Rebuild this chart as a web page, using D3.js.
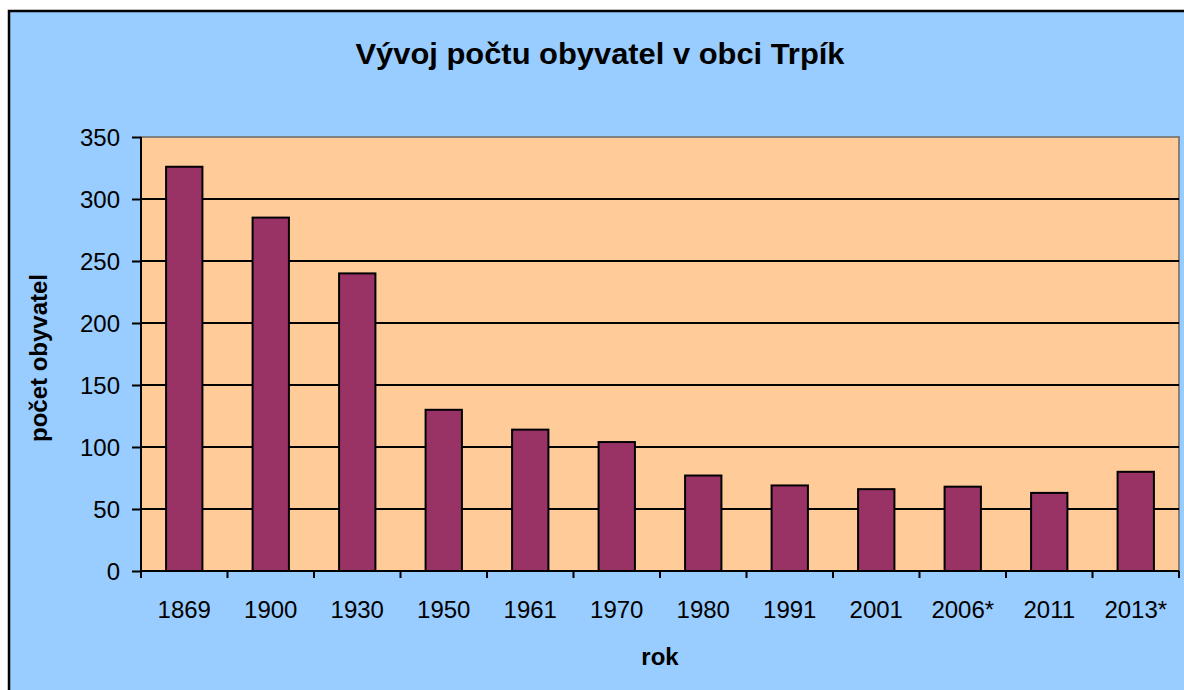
<!DOCTYPE html>
<html><head><meta charset="utf-8">
<script src="https://cdn.jsdelivr.net/npm/d3@7"></script>
<style>body{margin:0;background:#fff}svg{display:block}text{font-family:"Liberation Sans",Arial,sans-serif}</style>
</head><body>
<script>
const categories = ["1869","1900","1930","1950","1961","1970","1980","1991","2001","2006*","2011","2013*"];
const values = [326,285,240,130,114,104,77,69,66,68,63,80];
const yTicks = [0,50,100,150,200,250,300,350];

const W=1184,H=690;
const svg=d3.select("body").append("svg").attr("width",W).attr("height",H);
svg.append("rect").attr("x",9).attr("y",11).attr("width",W).attr("height",H).attr("fill","#99CCFF").attr("stroke","#000").attr("stroke-width",2.5);
const L=141,R=1179,T=137,B=571;
const x=d3.scaleBand().domain(categories).range([L,R]).paddingInner(0.58).paddingOuter(0.29);
const y=d3.scaleLinear().domain([0,350]).range([B,T]);
svg.append("rect").attr("x",L).attr("y",T).attr("width",R-L).attr("height",B-T).attr("fill","#FFCC99").attr("stroke","#808080").attr("stroke-width",2);
svg.append("g").selectAll("line").data(yTicks.filter(d=>d>0&&d<350)).join("line")
 .attr("x1",L).attr("x2",R).attr("y1",d=>y(d)).attr("y2",d=>y(d)).attr("stroke","#000").attr("stroke-width",2);
svg.append("g").selectAll("rect").data(values).join("rect")
 .attr("x",(d,i)=>x(categories[i])).attr("width",x.bandwidth())
 .attr("y",d=>y(d)).attr("height",d=>B-y(d))
 .attr("fill","#993366").attr("stroke","#000").attr("stroke-width",2);
const ya=svg.append("g").attr("transform",`translate(${L},0)`).call(d3.axisLeft(y).tickValues(yTicks).tickSize(9).tickPadding(12));
ya.select(".domain").attr("stroke","#000").attr("stroke-width",2).attr("d",`M0,${T}V${B}`);
ya.selectAll(".tick line").attr("stroke","#000").attr("stroke-width",2);
ya.selectAll(".tick text").attr("font-size",24).attr("fill","#000").attr("dy","0.36em").style("font-family","Liberation Sans, Arial, sans-serif");
// x axis
const step=(R-L)/categories.length;
svg.append("line").attr("x1",L).attr("x2",R).attr("y1",B).attr("y2",B).attr("stroke","#000").attr("stroke-width",2);
svg.append("g").selectAll("line").data(d3.range(categories.length+1)).join("line")
 .attr("x1",i=>L+i*step).attr("x2",i=>L+i*step).attr("y1",B).attr("y2",B+7).attr("stroke","#000").attr("stroke-width",2);
svg.append("g").selectAll("text").data(categories).join("text")
 .attr("x",d=>x(d)+x.bandwidth()/2).attr("y",618).attr("text-anchor","middle").attr("font-size",24).text(d=>d);
svg.append("text").attr("x",600).attr("y",64).attr("text-anchor","middle").attr("font-size",29).attr("font-weight","bold")
 .attr("textLength",489).attr("lengthAdjust","spacingAndGlyphs").text("Vývoj počtu obyvatel v obci Trpík");
svg.append("text").attr("x",660).attr("y",665).attr("text-anchor","middle").attr("font-size",24).attr("font-weight","bold").text("rok");
svg.append("text").attr("transform",`translate(47,358) rotate(-90)`).attr("text-anchor","middle").attr("font-size",24).attr("font-weight","bold").text("počet obyvatel");
</script>
</body></html>
